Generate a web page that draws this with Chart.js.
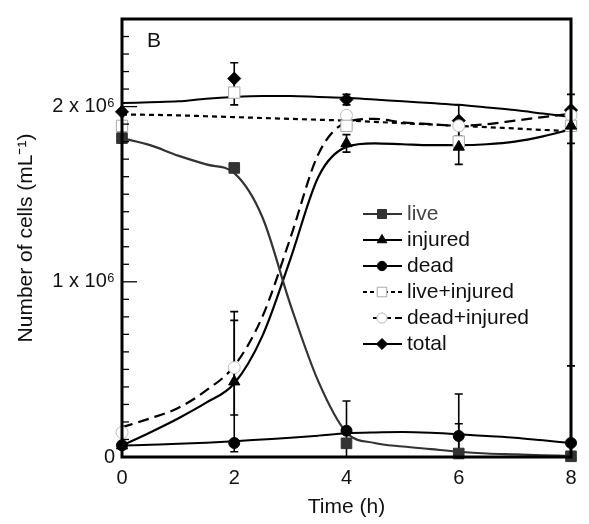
<!DOCTYPE html>
<html>
<head>
<meta charset="utf-8">
<script src="https://cdn.jsdelivr.net/npm/chart.js@4/dist/chart.umd.min.js"></script>
<style>
  html, body { margin: 0; padding: 0; background: #fff; }
  #wrap { width: 589px; height: 524px; }
</style>
</head>
<body>
<div id="wrap"><canvas id="myChart" width="589" height="524"></canvas></div>
<script>
// sampling times (h)
const times = [0, 2, 4, 6, 8];

// measured counts, in units of 10^6 cells/mL
const live = [1.82, 1.65, 0.078, 0.02, 0.004];
const injured = [0.065, 0.43, 1.79, 1.77, 1.89];
const dead = [0.067, 0.08, 0.15, 0.12, 0.08];
const liveInjured = [1.89, 2.08, 1.89, 1.80, 1.89];
const deadInjured = [0.14, 0.51, 1.95, 1.89, 1.95];
const total = [1.97, 2.16, 2.04, 1.92, 1.98];

// error bars (same units)
const errLive = [0, 0, 0, 0.17, 0];
const errInjured = [0, 0.40, 0.05, 0.10, 0];
const errDead = [0, 0, 0.17, 0.24, 0.44];
const errLiveInjured = [0, 0.07, 0, 0, 0.10];
const errDeadInjured = [0, 0.27, 0, 0, 0];
const errTotal = [0, 0.09, 0.03, 0.09, 0.09];

// fitted curves
const fitT = [0, 0.5, 1, 1.5, 2, 2.5, 3, 3.5, 4, 4.5, 5, 5.5, 6, 6.5, 7, 7.5, 8];
const fitLive = [1.82, 1.78, 1.72, 1.67, 1.62, 1.37, 0.87, 0.43, 0.14, 0.08, 0.06, 0.045, 0.03, 0.02, 0.015, 0.01, 0.005];
const fitInjured = [0.065, 0.14, 0.22, 0.31, 0.42, 0.69, 1.13, 1.60, 1.77, 1.79, 1.785, 1.78, 1.78, 1.785, 1.80, 1.83, 1.87];
const fitDead = [0.065, 0.07, 0.075, 0.082, 0.09, 0.10, 0.11, 0.122, 0.135, 0.14, 0.142, 0.138, 0.13, 0.12, 0.11, 0.095, 0.08];
const fitLiveInjured = [1.955, 1.953, 1.95, 1.945, 1.94, 1.935, 1.93, 1.925, 1.92, 1.913, 1.905, 1.898, 1.89, 1.883, 1.875, 1.867, 1.86];
const fitDeadInjured = [0.17, 0.22, 0.28, 0.38, 0.52, 0.80, 1.25, 1.73, 1.91, 1.93, 1.91, 1.90, 1.89, 1.90, 1.92, 1.94, 1.96];
const fitTotal = [2.02, 2.025, 2.03, 2.045, 2.055, 2.06, 2.06, 2.055, 2.05, 2.04, 2.03, 2.02, 2.01, 1.995, 1.98, 1.96, 1.94];

const yLabels = { 0: '0', 1: '1 x 10\u2076', 2: '2 x 10\u2076' };
const legendNames = ['live', 'injured', 'dead', 'live+injured', 'dead+injured', 'total'];

const FONT = "'Liberation Sans', Arial, Helvetica, sans-serif";

const pts = arr => arr.map((v, i) => ({ x: times[i], y: v }));
const fit = arr => arr.map((v, i) => ({ x: fitT[i], y: v }));

// marker styles, shared with the legend
const markers = [
  { pointStyle: 'rect', radius: 7.5, bg: '#333', border: '#333', bw: 1 },
  { pointStyle: 'triangle', radius: 6.5, bg: '#000', border: '#000', bw: 1 },
  { pointStyle: 'circle', radius: 5.5, bg: '#000', border: '#000', bw: 1 },
  { pointStyle: 'rect', radius: 8, bg: '#fff', border: '#aaa', bw: 1 },
  { pointStyle: 'circle', radius: 6, bg: '#fff', border: '#bbb', bw: 1 },
  { pointStyle: 'rectRot', radius: 6.5, bg: '#000', border: '#000', bw: 1 }
];
const lineStyles = [
  { color: '#333', dash: [], width: 2.2 },
  { color: '#000', dash: [], width: 2.2 },
  { color: '#000', dash: [], width: 2 },
  { color: '#000', dash: [5, 4], width: 2.2 },
  { color: '#000', dash: [11, 6], width: 2.2 },
  { color: '#000', dash: [], width: 2 }
];

function pointSet(data, m, order) {
  return {
    data: data, showLine: false, order: order, clip: false,
    pointStyle: m.pointStyle, pointRadius: m.radius,
    pointBackgroundColor: m.bg, pointBorderColor: m.border, pointBorderWidth: m.bw
  };
}
function curveSet(data, s) {
  return {
    data: data, order: 20, pointRadius: 0, fill: false,
    borderColor: s.color, borderWidth: s.width, borderDash: s.dash,
    cubicInterpolationMode: 'monotone'
  };
}

const errorBars = {
  id: 'errorBars',
  beforeDatasetsDraw(chart) {
    const { ctx, chartArea, scales: { x, y } } = chart;
    const sets = [
      [live, errLive], [injured, errInjured], [dead, errDead],
      [liveInjured, errLiveInjured], [deadInjured, errDeadInjured], [total, errTotal]
    ];
    ctx.save();
    ctx.strokeStyle = '#000';
    ctx.lineWidth = 1.6;
    sets.forEach(([vals, errs]) => {
      vals.forEach((v, i) => {
        const e = errs[i];
        if (!e) return;
        const px = x.getPixelForValue(times[i]);
        const top = y.getPixelForValue(v + e);
        const lowVal = v - e;
        const bot = lowVal < 0 ? chartArea.bottom : y.getPixelForValue(lowVal);
        ctx.beginPath();
        ctx.moveTo(px, top); ctx.lineTo(px, bot);
        ctx.moveTo(px - 4, top); ctx.lineTo(px + 4, top);
        if (lowVal >= 0) { ctx.moveTo(px - 4, bot); ctx.lineTo(px + 4, bot); }
        ctx.stroke();
      });
    });
    ctx.restore();
  }
};

const frameAndLegend = {
  id: 'frameAndLegend',
  afterDraw(chart) {
    const { ctx, chartArea: a, scales: { y } } = chart;
    ctx.save();
    // inward ticks on the y axis
    ctx.strokeStyle = '#000';
    ctx.lineWidth = 1.3;
    y.ticks.forEach(t => {
      const major = Math.abs(t.value - Math.round(t.value)) < 1e-6;
      const py = y.getPixelForValue(t.value);
      ctx.beginPath();
      ctx.moveTo(a.left, py);
      ctx.lineTo(a.left + (major ? 15 : 7), py);
      ctx.stroke();
    });
    // frame
    ctx.lineWidth = 3;
    ctx.strokeRect(a.left, a.top, a.right - a.left, a.bottom - a.top);

    // panel letter
    ctx.fillStyle = '#111';
    ctx.font = '21px ' + FONT;
    ctx.textBaseline = 'alphabetic';
    ctx.fillText('B', 147, 47);

    // legend
    const x0 = 363, x1 = 402, xm = 382, xt = 407;
    ctx.font = '21px ' + FONT;
    ctx.textBaseline = 'middle';
    legendNames.forEach((name, i) => {
      const yy = 214 + i * 26;
      const s = lineStyles[i];
      ctx.strokeStyle = s.color;
      ctx.lineWidth = 2;
      ctx.setLineDash(s.dash.length ? (i === 4 ? [7, 4] : [4, 3]) : []);
      ctx.beginPath();
      ctx.moveTo(i === 4 ? 373 : x0, yy);
      ctx.lineTo(x1, yy);
      ctx.stroke();
      ctx.setLineDash([]);
      const m = markers[i];
      ctx.fillStyle = m.bg;
      ctx.strokeStyle = m.border;
      ctx.lineWidth = m.bw;
      Chart.helpers.drawPoint(ctx, { pointStyle: m.pointStyle, radius: m.radius * 0.85, rotation: 0, borderWidth: m.bw }, xm, yy);
      ctx.fillStyle = i === 0 ? '#444' : '#111';
      ctx.fillText(name, xt, yy);
    });
    ctx.restore();
  }
};

const ctx = document.getElementById('myChart').getContext('2d');
new Chart(ctx, {
  type: 'line',
  data: {
    datasets: [
      curveSet(fit(fitLive), lineStyles[0]),
      curveSet(fit(fitInjured), lineStyles[1]),
      curveSet(fit(fitDead), lineStyles[2]),
      curveSet(fit(fitLiveInjured), lineStyles[3]),
      curveSet(fit(fitDeadInjured), lineStyles[4]),
      curveSet(fit(fitTotal), lineStyles[5]),
      pointSet(pts(total), markers[5], 6),
      pointSet(pts(deadInjured), markers[4], 5),
      pointSet(pts(liveInjured), markers[3], 4),
      pointSet(pts(dead), markers[2], 3),
      pointSet(pts(injured), markers[1], 2),
      pointSet(pts(live), markers[0], 1)
    ]
  },
  options: {
    responsive: false,
    animation: false,
    layout: { padding: { top: 9, right: 18, left: 0, bottom: 0 } },
    plugins: { legend: { display: false }, tooltip: { enabled: false } },
    scales: {
      x: {
        type: 'linear', min: 0, max: 8,
        grid: { display: false, drawTicks: false },
        border: { display: false },
        ticks: { stepSize: 2, padding: 9, color: '#111', font: { family: FONT, size: 20 } },
        title: { display: true, text: 'Time (h)', color: '#111', font: { family: FONT, size: 21 }, padding: { top: 0, bottom: 4 } },
        afterFit: scale => { scale.height = 67; }
      },
      y: {
        type: 'linear', min: 0, max: 2.5,
        grid: { display: false, drawTicks: false },
        border: { display: false },
        ticks: {
          stepSize: 0.1, autoSkip: false, padding: 7, color: '#111',
          font: { family: FONT, size: 20 },
          callback: v => {
            const r = Math.round(v);
            return Math.abs(v - r) < 1e-6 && yLabels[r] !== undefined ? yLabels[r] : '';
          }
        },
        title: { display: true, text: 'Number of cells (mL\u207B\u00B9)', color: '#111', font: { family: FONT, size: 21 }, padding: { top: 14, bottom: 0 } },
        afterFit: scale => { scale.width = 122; }
      }
    }
  },
  plugins: [errorBars, frameAndLegend]
});
</script>
</body>
</html>
